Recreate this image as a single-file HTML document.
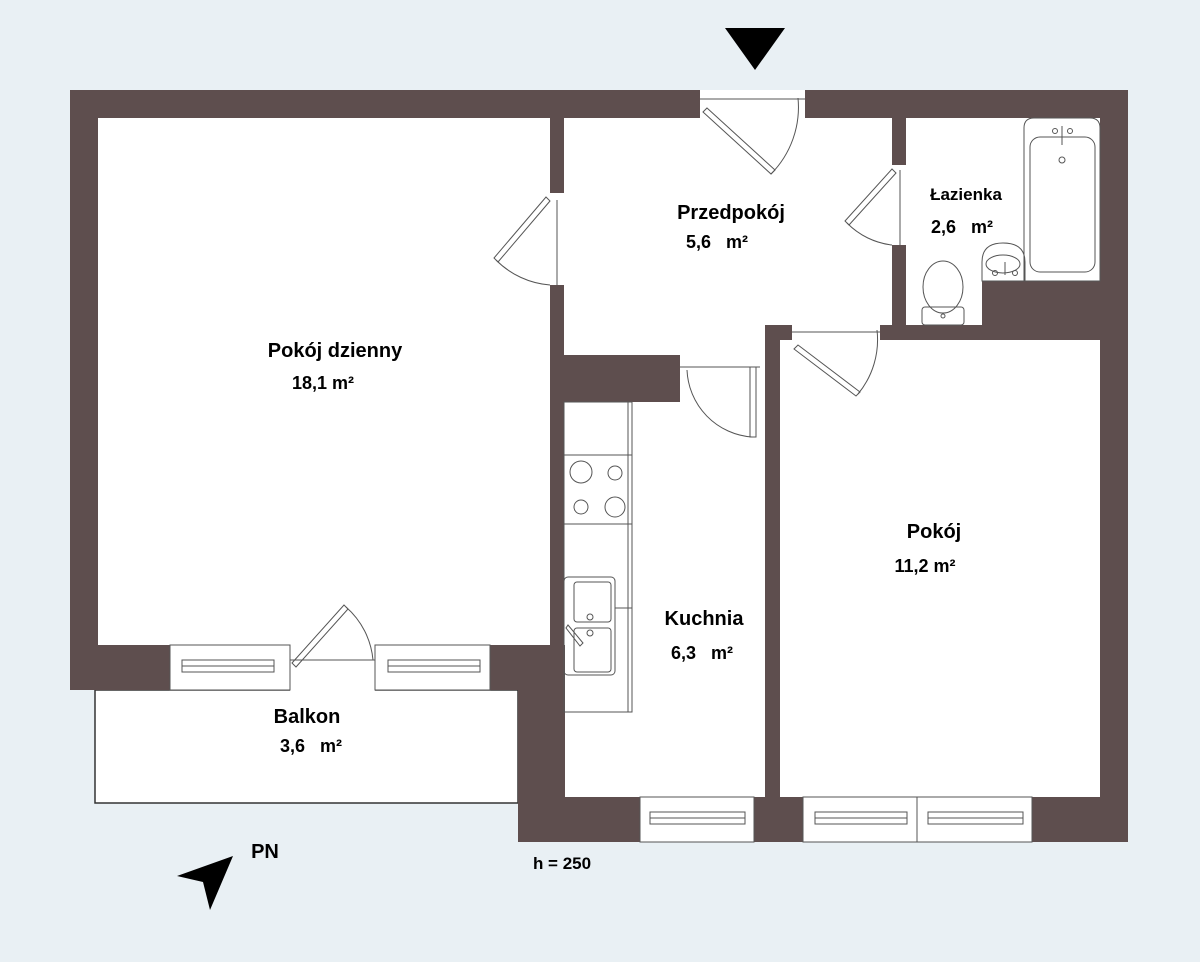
<!DOCTYPE html>
<html><head><meta charset="utf-8"><style>
html,body{margin:0;padding:0;background:#e9f0f4;}
svg{display:block}
text{font-family:"Liberation Sans",Arial,sans-serif;font-weight:bold;fill:#000}
</style></head><body>
<svg width="1200" height="962" viewBox="0 0 1200 962" xmlns="http://www.w3.org/2000/svg">
<rect width="1200" height="962" fill="#e9f0f4"/>
<!-- floor -->
<rect x="98" y="118" width="1002" height="527" fill="#fff"/>
<rect x="564" y="340" width="536" height="457" fill="#fff"/>
<rect x="95" y="690" width="423" height="113" fill="#fff" stroke="#333" stroke-width="1.5"/>
<rect x="700" y="90" width="105" height="28" fill="#fff"/>
<rect x="290" y="645" width="85" height="46" fill="#fff"/>
<g fill="#5e4e4e">
<rect x="70" y="90" width="630" height="28"/>
<rect x="805" y="90" width="323" height="28"/>
<rect x="70" y="90" width="28" height="600"/>
<rect x="1100" y="90" width="28" height="752"/>
<rect x="70" y="645" width="100" height="45"/>
<rect x="490" y="645" width="75" height="45"/>
<rect x="518" y="645" width="47" height="197"/>
<rect x="518" y="797" width="122" height="45"/>
<rect x="754" y="797" width="49" height="45"/>
<rect x="1032" y="797" width="96" height="45"/>
<rect x="550" y="118" width="14" height="75"/>
<rect x="550" y="285" width="14" height="360"/>
<rect x="564" y="355" width="116" height="47"/>
<rect x="765" y="325" width="15" height="472"/>
<rect x="765" y="325" width="27" height="15"/>
<rect x="880" y="325" width="220" height="15"/>
<rect x="892" y="118" width="14" height="47"/>
<rect x="892" y="245" width="14" height="95"/>
<rect x="982" y="281" width="118" height="50"/>
</g>
<g fill="#fff" stroke="#555" stroke-width="1">
<rect x="170" y="645" width="120" height="45"/>
<rect x="375" y="645" width="115" height="45"/>
<rect x="640" y="797" width="114" height="45"/>
<rect x="803" y="797" width="114" height="45"/>
<rect x="917" y="797" width="115" height="45"/>
</g>
<g fill="none" stroke="#555" stroke-width="1">
<rect x="182" y="660" width="92" height="12"/><line x1="182" y1="666" x2="274" y2="666"/>
<rect x="388" y="660" width="92" height="12"/><line x1="388" y1="666" x2="480" y2="666"/>
<rect x="650" y="812" width="95" height="12"/><line x1="650" y1="818" x2="745" y2="818"/>
<rect x="815" y="812" width="92" height="12"/><line x1="815" y1="818" x2="907" y2="818"/>
<rect x="928" y="812" width="95" height="12"/><line x1="928" y1="818" x2="1023" y2="818"/>
<line x1="700" y1="99" x2="805" y2="99"/>
<path d="M707 108 L775 170 L771 174 L703 112 Z"/>
<path d="M771 174 A 95 95 0 0 0 798 98"/>
<line x1="557" y1="200" x2="557" y2="285"/>
<path d="M550 201 L498 262 L494 258 L546 197 Z"/>
<path d="M496 260 A 85 85 0 0 0 550 285"/>
<line x1="900" y1="170" x2="900" y2="245"/>
<path d="M896 173 L849 225 L845 221 L892 169 Z"/>
<path d="M847 223 A 75 75 0 0 0 892 245"/>
<line x1="680" y1="367" x2="760" y2="367"/>
<rect x="750" y="367" width="6" height="70"/>
<path d="M687 370 A 70 70 0 0 0 752 437"/>
<line x1="792" y1="332" x2="880" y2="332"/>
<path d="M798 345 L860 392 L856 396 L794 349 Z"/>
<path d="M858 394 A 85 85 0 0 0 877 330"/>
<line x1="290" y1="660" x2="375" y2="660"/>
<path d="M292 663 L344 605 L348 609 L296 667 Z"/>
<path d="M346 607 A 80 80 0 0 1 373 660"/>
<rect x="564" y="402" width="68" height="310"/>
<line x1="628" y1="402" x2="628" y2="712"/>
<rect x="564" y="455" width="68" height="69"/>
<circle cx="581" cy="472" r="11"/><circle cx="615" cy="473" r="7"/>
<circle cx="581" cy="507" r="7"/><circle cx="615" cy="507" r="10"/>
<rect x="564" y="577" width="51" height="98" rx="4"/>
<rect x="574" y="582" width="37" height="40" rx="3"/>
<rect x="574" y="628" width="37" height="44" rx="3"/>
<circle cx="590" cy="617" r="3"/><circle cx="590" cy="633" r="3"/>
<path d="M568 625 L583 643 L580 646 L566 628 Z"/>
<line x1="615" y1="608" x2="632" y2="608"/>
<path d="M1024 281 L1024 128 Q1024 118 1034 118 L1090 118 Q1100 118 1100 128 L1100 281 Z"/>
<rect x="1030" y="137" width="65" height="135" rx="10"/>
<circle cx="1062" cy="160" r="3"/><circle cx="1055" cy="131" r="2.5"/><circle cx="1070" cy="131" r="2.5"/>
<line x1="1062" y1="126" x2="1062" y2="145"/>
<path d="M982 281 L982 262 Q982 243 1003 243 Q1025 243 1025 262 L1025 281 Z"/>
<ellipse cx="1003" cy="264" rx="17" ry="9"/>
<line x1="1005" y1="262" x2="1005" y2="275"/>
<circle cx="995" cy="273" r="2.5"/><circle cx="1015" cy="273" r="2.5"/>
<ellipse cx="943" cy="287" rx="20" ry="26"/>
<rect x="922" y="307" width="42" height="18" rx="3"/>
<circle cx="943" cy="316" r="2"/>
</g>
<polygon points="725,28 785,28 755,70" fill="#000"/>
<polygon points="233,856 177,876 203,882 210,910" fill="#000"/>
<g font-size="20" text-anchor="middle">
<text x="335" y="357">Pokój dzienny</text>
<text x="323" y="389" font-size="18">18,1 m²</text>
<text x="731" y="219">Przedpokój</text>
<text x="717" y="248" font-size="18">5,6 &#160;&#160;m²</text>
<text x="966" y="200" font-size="17">Łazienka</text>
<text x="962" y="233" font-size="18">2,6 &#160;&#160;m²</text>
<text x="704" y="625">Kuchnia</text>
<text x="702" y="659" font-size="18">6,3 &#160;&#160;m²</text>
<text x="934" y="538">Pokój</text>
<text x="925" y="572" font-size="18">11,2 m²</text>
<text x="307" y="723">Balkon</text>
<text x="311" y="752" font-size="18">3,6 &#160;&#160;m²</text>
<text x="265" y="858">PN</text>
<text x="562" y="869" font-size="17">h = 250</text>
</g>
</svg>
</body></html>
